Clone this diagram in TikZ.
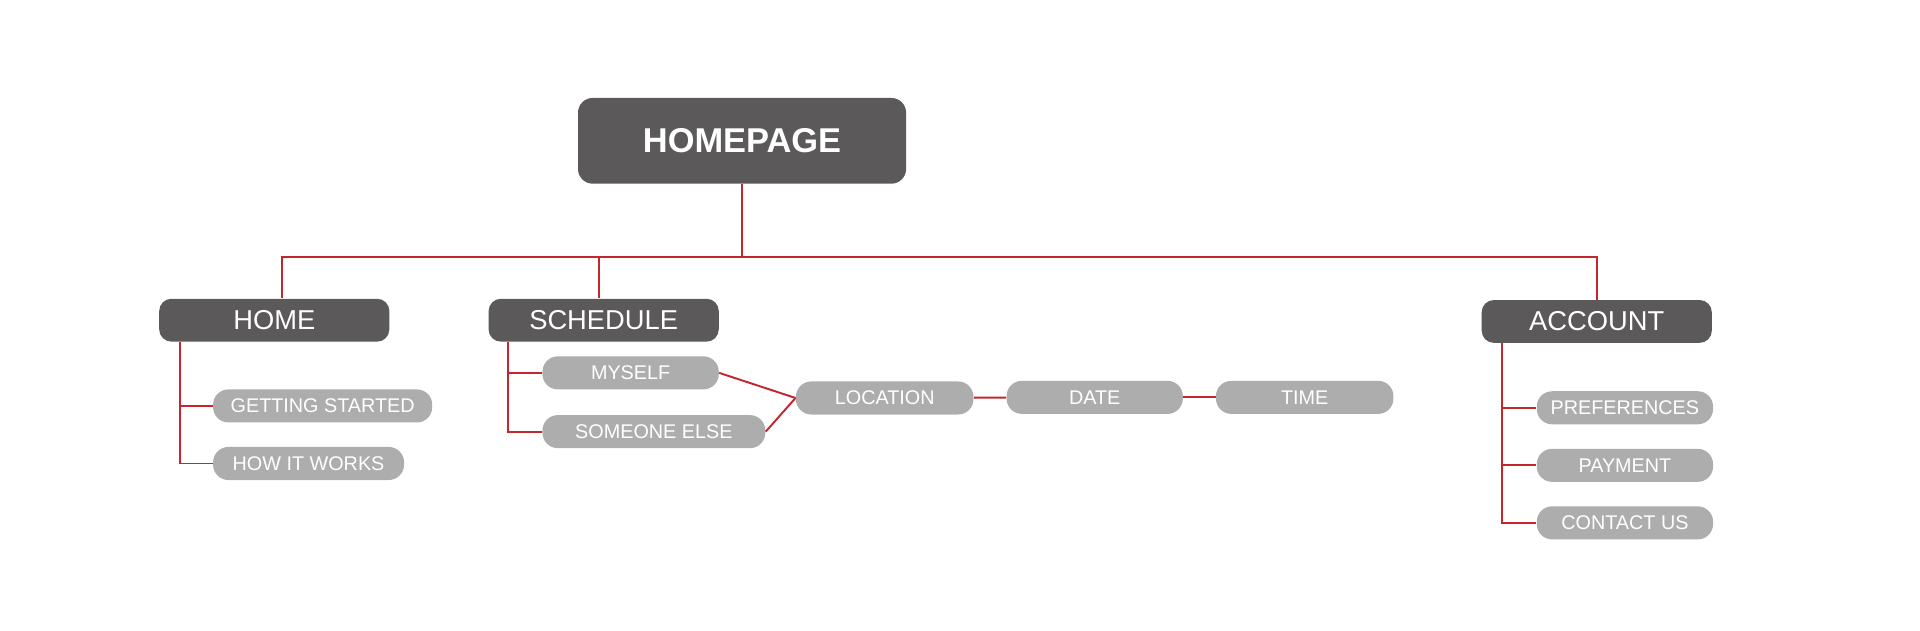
\documentclass[tikz,border=0pt]{standalone}
\usepackage{fontspec}
\setmainfont{Liberation Sans}
\usepackage{xcolor}
\definecolor{boxdark}{HTML}{5B595A}
\definecolor{boxlight}{HTML}{ADADAD}
\definecolor{linkred}{HTML}{C4262E}
\begin{document}
\begin{tikzpicture}[x=0.02cm,y=-0.02cm,
    topbox/.style={fill=boxdark,text=white,rounded corners=0.24cm,minimum width=5.36cm,minimum height=1.4cm,font=\fontsize{16}{19}\selectfont\bfseries},
    midbox/.style={fill=boxdark,text=white,rounded corners=0.2cm,minimum width=3.76cm,minimum height=0.7cm,font=\fontsize{12.7}{15}\selectfont},
    leafbox/.style={fill=boxlight,text=white,rounded corners=0.25cm,minimum height=0.54cm,inner xsep=0pt,font=\fontsize{9.2}{11}\selectfont},
    link/.style={draw=linkred,line width=0.9pt}]
    \useasboundingbox (0,0) rectangle (1568,515);
    \node[topbox] (homepage) at (606,115) {HOMEPAGE};
    \node[midbox] (home) at (224,261.5) {HOME};
    \node[midbox] (schedule) at (493,261.5) {SCHEDULE};
    \node[midbox] (account) at (1304,262.5) {ACCOUNT};
    \node[leafbox,minimum width=3.58cm] (started) at (263.5,331.5) {GETTING STARTED};
    \node[leafbox,minimum width=3.12cm] (works) at (252,378.5) {HOW IT WORKS};
    \node[leafbox,minimum width=2.88cm] (myself) at (515,304.5) {MYSELF};
    \node[leafbox,minimum width=3.64cm] (someone) at (534,352.5) {SOMEONE ELSE};
    \node[leafbox,minimum width=2.9cm] (location) at (722.5,325) {LOCATION};
    \node[leafbox,minimum width=2.88cm] (date) at (894,324.5) {DATE};
    \node[leafbox,minimum width=2.9cm] (time) at (1065.5,324.5) {TIME};
    \node[leafbox,minimum width=2.88cm] (prefs) at (1327,333) {PREFERENCES};
    \node[leafbox,minimum width=2.88cm] (payment) at (1327,380) {PAYMENT};
    \node[leafbox,minimum width=2.88cm] (contact) at (1327,427) {CONTACT US};
    \coordinate (bus) at (606,210);
    \draw[link] (homepage) -- (bus);
    \draw[link] (bus) -| ([xshift=0.12cm]home.north);
    \draw[link] (bus) -| ([xshift=-0.08cm]schedule.north);
    \draw[link] (bus) -| (account.north);
    \draw[link] ([xshift=0.34cm]home.south west) |- (started.west);
    \draw[link] ([xshift=0.34cm]home.south west) |- (works.west);
    \draw[link] ([xshift=0.32cm]schedule.south west) |- (myself.west);
    \draw[link] ([xshift=0.32cm]schedule.south west) |- (someone.west);
    \draw[link] (myself.east) -- (location.west);
    \draw[link] (someone.east) -- (location.west);
    \draw[link] (location) -- (date);
    \draw[link] (date) -- (time);
    \draw[link] ([xshift=0.34cm]account.south west) |- (prefs.west);
    \draw[link] ([xshift=0.34cm]account.south west) |- (payment.west);
    \draw[link] ([xshift=0.34cm]account.south west) |- (contact.west);
\end{tikzpicture}
\end{document}
